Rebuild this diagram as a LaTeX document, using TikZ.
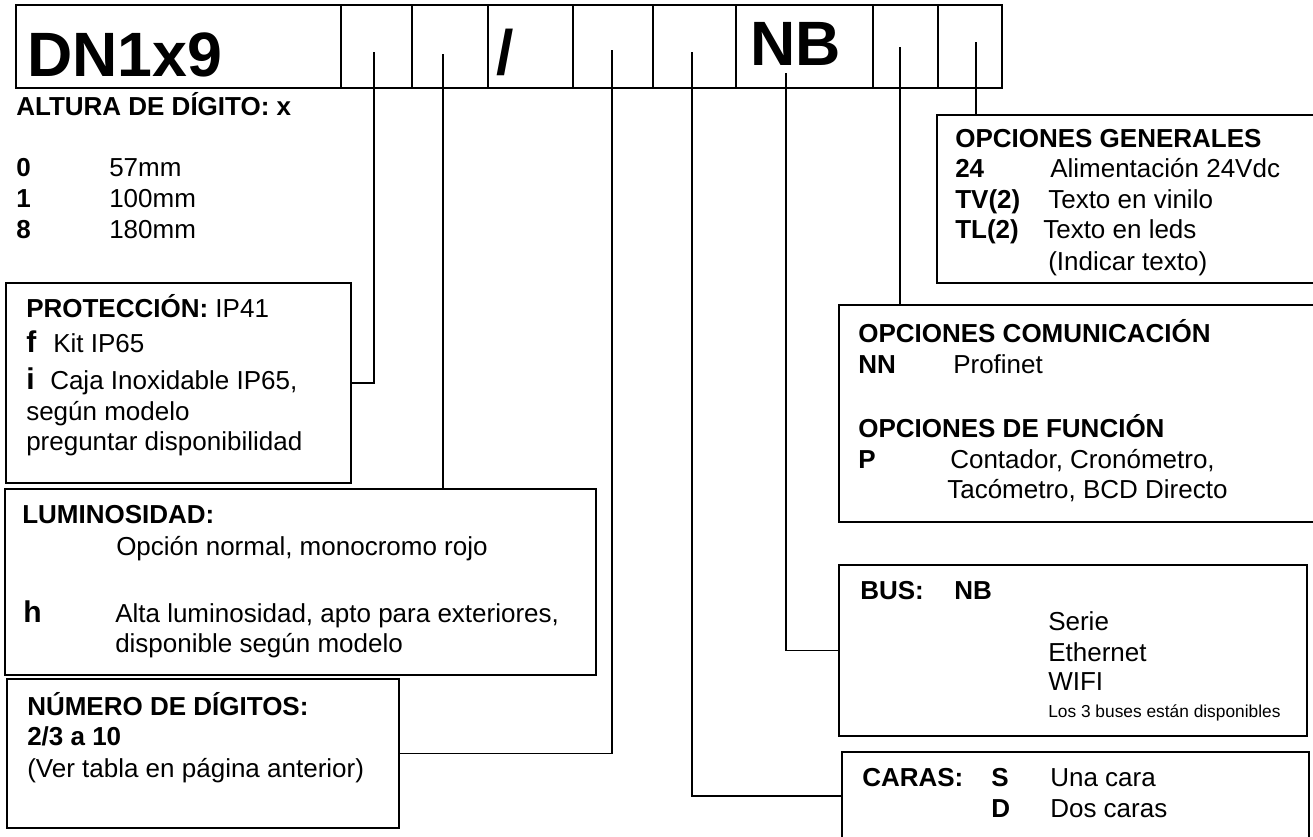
\documentclass[tikz,border=0pt]{standalone}
\usepackage{fontspec}
\setmainfont{Liberation Sans}
\usetikzlibrary{fit}

\begin{document}
\begin{tikzpicture}[x=0.75pt,y=-0.75pt,
    frame/.style={draw,line width=1.8pt,inner sep=0pt},
    cell/.style={line width=1.4pt},
    box/.style={draw,line width=1pt,inner sep=0pt},
    wire/.style={line width=0.8pt},
    txt/.style={anchor=base west,inner sep=0pt,font=\fontsize{19.5}{23}\selectfont},
    key/.style={txt,font=\fontsize{19.5}{23}\selectfont\bfseries},
    letter/.style={txt,font=\fontsize{22.5}{25}\selectfont\bfseries},
    small/.style={txt,font=\fontsize{13}{15}\selectfont},
    big/.style={anchor=base west,inner sep=0pt,font=\fontsize{47}{50}\selectfont\bfseries}]
\useasboundingbox (0,0) rectangle (1313,836);
\clip (0,0) rectangle (1313,836);
% code strip
\node[frame,fit={(16,5) (1002,88)}] (code) {};
\foreach \x in {341,412,488,573,653,736,873}
    \draw[cell] (\x,5) -- (\x,88);
\draw[wire] (938,5) -- (938,88);
\node[big] (dn) at (27,76) {DN1x9};
\node[big] (slash) at (496,74) {/};
\node[big] (nb) at (750,65) {NB};
\coordinate (c1) at (374,52);
\coordinate (c2) at (443,54);
\coordinate (c3) at (612,50);
\coordinate (c4) at (692,52);
\coordinate (c5) at (786,73);
\coordinate (c6) at (900,47);
\coordinate (c7) at (976,42);
% boxes
\node[box,fit={(6,283) (351,483)}] (prot) {};
\node[box,fit={(5,489) (596,675)}] (lum) {};
\node[box,fit={(7,679) (399,828)}] (num) {};
\node[box,fit={(937,115) (1340,283)}] (gen) {};
\node[box,fit={(839,305) (1340,522)}] (com) {};
\node[box,fit={(839,565) (1307,736)}] (bus) {};
\node[box,fit={(842,752) (1309,840)}] (caras) {};
% wires
\draw[wire] (c1) |- (prot.east);
\draw[wire] (c2) -- (c2 |- lum.north);
\draw[wire] (c3) |- (num.east);
\draw[wire] (c4) |- (caras.west);
\draw[wire] (c5) |- (bus.west);
\draw[wire] (c6) -- (c6 |- com.north);
\draw[wire] (c7) -- (c7 |- gen.north);
% altura
\node[key] (alt) at (16,115) {ALTURA DE DÍGITO: x};
\foreach \k/\v/\y in {0/57mm/176,1/100mm/207,8/180mm/238}{
    \node[key] (alt-\k) at (16,\y) {\k};
    \node[txt] (altv-\k) at (109,\y) {\v};
}
% proteccion
\node[txt] (prot-t) at (26,317) {\textbf{PROTECCIÓN:} IP41};
\node[letter] (prot-f) at (26,352) {f};
\node[txt] (prot-fv) at (53,352) {Kit IP65};
\node[letter] (prot-i) at (26,389) {i};
\node[txt] (prot-iv) at (50,389) {Caja Inoxidable IP65,};
\node[txt] (prot-a) at (26,420) {según modelo};
\node[txt] (prot-b) at (26,450) {preguntar disponibilidad};
% luminosidad
\node[key] (lum-t) at (22,523) {LUMINOSIDAD:};
\node[txt] (lum-n) at (116,555) {Opción normal, monocromo rojo};
\node[letter] (lum-h) at (23,622) {h};
\node[txt] (lum-a) at (115,622) {Alta luminosidad, apto para exteriores,};
\node[txt] (lum-b) at (115,652) {disponible según modelo};
% digitos
\node[key] (num-t) at (27,715) {NÚMERO DE DÍGITOS:};
\node[key] (num-r) at (27,745) {2/3 a 10};
\node[txt] (num-v) at (27,777) {(Ver tabla en página anterior)};
% generales
\node[key] (gen-t) at (955,147) {OPCIONES GENERALES};
\foreach \k/\v/\x/\y [count=\i] in {24/Alimentación 24Vdc/1050/177,TV(2)/Texto en vinilo/1048/208,TL(2)/Texto en leds/1043/238}{
    \node[key] (gen-k\i) at (955,\y) {\k};
    \node[txt] (gen-v\i) at (\x,\y) {\v};
}
\node[txt] (gen-n) at (1048,270) {(Indicar texto)};
% comunicacion / funcion
\node[key] (com-t) at (858,342) {OPCIONES COMUNICACIÓN};
\node[key] (com-k) at (858,373) {NN};
\node[txt] (com-v) at (953,373) {Profinet};
\node[key] (fun-t) at (858,437) {OPCIONES DE FUNCIÓN};
\node[key] (fun-k) at (858,468) {P};
\node[txt] (fun-a) at (950,468) {Contador, Cronómetro,};
\node[txt] (fun-b) at (947,498) {Tacómetro, BCD Directo};
% bus
\node[key] (bus-t) at (860,599) {BUS:};
\node[key] (bus-k) at (954,599) {NB};
\foreach \v/\y in {Serie/630,Ethernet/661,WIFI/690}
    \node[txt] (bus-\v) at (1048,\y) {\v};
\node[small] (bus-n) at (1048,717) {Los 3 buses están disponibles};
% caras
\node[key] (car-t) at (862,786) {CARAS:};
\node[key] (car-s) at (991,786) {S};
\node[txt] (car-sv) at (1050,786) {Una cara};
\node[key] (car-d) at (991,817) {D};
\node[txt] (car-dv) at (1050,817) {Dos caras};
\end{tikzpicture}
\end{document}
